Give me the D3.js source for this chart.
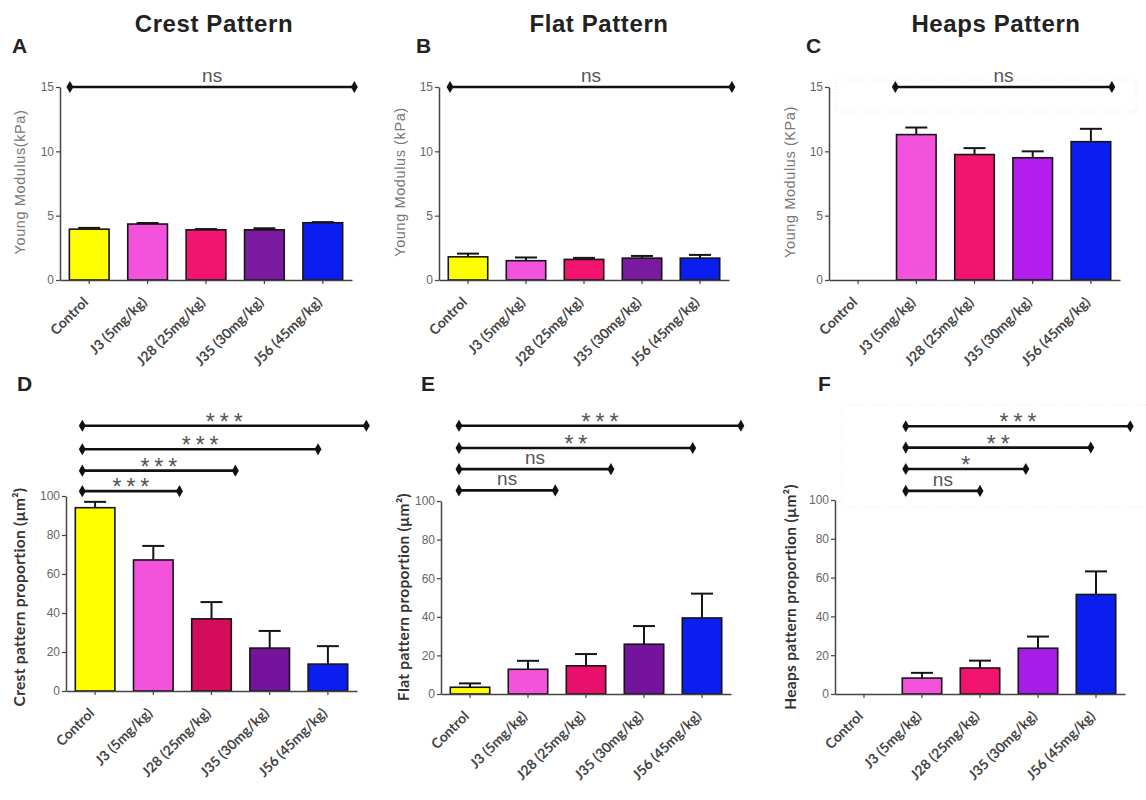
<!DOCTYPE html>
<html><head><meta charset="utf-8">
<script src="https://cdn.jsdelivr.net/npm/d3@7/dist/d3.min.js"></script>
<style>body{margin:0;background:#fff}svg{display:block}</style>
</head><body>
<svg id="c" width="1146" height="800"></svg>
<script>
// ---------- DATA ----------
const categories = ["Control", "J3 (5mg/kg)", "J28 (25mg/kg)", "J35 (30mg/kg)", "J56 (45mg/kg)"];
const columnTitles = ["Crest Pattern", "Flat Pattern", "Heaps Pattern"];
const panelLetters = ["A", "B", "C", "D", "E", "F"];
const yLabels = ["Young Modulus(kPa)", "Young Modulus (kPa)", "Young Modulus (KPa)",
                 "Crest pattern proportion (µm²)", "Flat pattern proportion (µm²)", "Heaps pattern proportion (µm²)"];
const modulusTicks = [0, 5, 10, 15];
const proportionTicks = [0, 20, 40, 60, 80, 100];

const crestModulus = [3.95, 4.35, 3.9, 3.9, 4.45];
const crestModulusErr = [0.1, 0.08, 0.06, 0.12, 0.05];
const flatModulus = [1.8, 1.5, 1.6, 1.7, 1.7];
const flatModulusErr = [0.25, 0.25, 0.12, 0.17, 0.25];
const heapsModulus = [null, 11.3, 9.75, 9.5, 10.75];
const heapsModulusErr = [null, 0.55, 0.5, 0.5, 1.0];

const crestProportion = [94, 67.2, 37, 22, 13.8];
const crestProportionErr = [3, 7.2, 8.6, 8.8, 9.2];
const flatProportion = [3.5, 12.8, 14.6, 25.8, 39.4];
const flatProportionErr = [2, 4.4, 6.1, 9.4, 12.6];
const heapsProportion = [null, 8.2, 13.4, 23.6, 51.3];
const heapsProportionErr = [null, 2.7, 3.8, 6, 11.9];

// significance brackets: from/to in category-index units, level in data units
const sigA = [{from: -0.33, to: 4.54, level: 15, label: "ns"}];
const sigB = [{from: -0.31, to: 4.55, level: 15, label: "ns"}];
const sigC = [{from: 0.64, to: 4.36, level: 15, label: "ns"}];
const sigD = [{from: -0.22, to: 4.66, level: 136, label: "***"},
              {from: -0.22, to: 3.83, level: 124, label: "***"},
              {from: -0.22, to: 2.41, level: 113, label: "***"},
              {from: -0.22, to: 1.45, level: 102.5, label: "***"}];
const sigE = [{from: -0.19, to: 4.67, level: 139, label: "***"},
              {from: -0.19, to: 3.84, level: 127.5, label: "**"},
              {from: -0.19, to: 2.43, level: 116.5, label: "ns"},
              {from: -0.19, to: 1.47, level: 105.5, label: "ns"}];
const sigF = [{from: 0.72, to: 4.59, level: 138, label: "***"},
              {from: 0.72, to: 3.91, level: 127, label: "**"},
              {from: 0.72, to: 2.79, level: 116, label: "*"},
              {from: 0.72, to: 2.0, level: 104.7, label: "ns"}];

// ---------- STYLE / LAYOUT ----------
const colorsTop = ["#ffff00", "#f352dc", "#f2146e", "#7a1a9e", "#0a1ef0"];
const colorsC = ["#ffff00", "#f352dc", "#f2146e", "#b41ff0", "#0a1ef0"];
const colorsD = ["#ffff00", "#f352dc", "#d30c5c", "#74139c", "#0a1ef0"];
const colorsE = ["#ffff00", "#f352dc", "#e8106a", "#74139c", "#0a1ef0"];
const colorsF = ["#ffff00", "#f352dc", "#f2146e", "#a51de6", "#0a1ef0"];

const panels = [
  {vals: crestModulus, errs: crestModulusErr, sig: sigA, colors: colorsTop, ticks: modulusTicks, yMax: 15,
   x0: 60, x1: 352, y0: 280, yTop: 87, letter: [12, 53], ylab: [21, 182], top: true},
  {vals: flatModulus, errs: flatModulusErr, sig: sigB, colors: colorsTop, ticks: modulusTicks, yMax: 15,
   x0: 439, x1: 729, y0: 280, yTop: 87, letter: [416, 53], ylab: [401, 182], top: true},
  {vals: heapsModulus, errs: heapsModulusErr, sig: sigC, colors: colorsC, ticks: modulusTicks, yMax: 15,
   x0: 829, x1: 1120, y0: 280, yTop: 87, letter: [806, 53], ylab: [791, 182], top: true},
  {vals: crestProportion, errs: crestProportionErr, sig: sigD, colors: colorsD, ticks: proportionTicks, yMax: 100,
   x0: 66, x1: 357, y0: 691, yTop: 496, letter: [17, 391], ylab: [21, 597], top: false},
  {vals: flatProportion, errs: flatProportionErr, sig: sigE, colors: colorsE, ticks: proportionTicks, yMax: 100,
   x0: 441, x1: 731, y0: 694, yTop: 501, letter: [421, 391], ylab: [405, 597], top: false},
  {vals: heapsProportion, errs: heapsProportionErr, sig: sigF, colors: colorsF, ticks: proportionTicks, yMax: 100,
   x0: 835, x1: 1125, y0: 694, yTop: 500, letter: [818, 391], ylab: [792, 597], top: false}
];
const titlePos = [[214, 32], [599, 32], [996, 32]];

const svg = d3.select("#c");
const ARIAL = "'Liberation Sans', Arial, sans-serif";
const CAL = "Lato, 'Open Sans', sans-serif";

// faint dotted boxes (scan artefacts)
svg.append("rect").attr("x", 836).attr("y", 80).attr("width", 300).attr("height", 32)
  .attr("fill", "none").attr("stroke", "#e4e4e4").attr("stroke-dasharray", "1,2");
svg.append("rect").attr("x", 842).attr("y", 405).attr("width", 310).attr("height", 102)
  .attr("fill", "none").attr("stroke", "#ececec").attr("stroke-dasharray", "1,2");

columnTitles.forEach((t, i) => {
  svg.append("text").attr("x", titlePos[i][0]).attr("y", titlePos[i][1])
    .attr("text-anchor", "middle").attr("font-family", ARIAL).attr("font-weight", "bold")
    .attr("font-size", 24).attr("letter-spacing", 0.6).attr("fill", "#222").text(t);
});

panels.forEach((p, pi) => {
  const g = svg.append("g");
  const x = d3.scaleBand().domain(categories).range([p.x0, p.x1]).paddingInner(0.32).paddingOuter(0.16);
  const y = d3.scaleLinear().domain([0, p.yMax]).range([p.y0, p.yTop]);
  const idx = d3.scaleLinear().domain([0, 1])
    .range([x(categories[0]) + x.bandwidth() / 2, x(categories[1]) + x.bandwidth() / 2]);

  // letter
  svg.append("text").attr("x", p.letter[0]).attr("y", p.letter[1])
    .attr("font-family", ARIAL).attr("font-weight", "bold").attr("font-size", 21)
    .attr("fill", "#222").text(panelLetters[pi]);

  // y label
  svg.append("text").attr("transform", `translate(${p.ylab[0]},${p.ylab[1]}) rotate(-90)`)
    .attr("text-anchor", "middle").attr("dominant-baseline", "middle")
    .attr("font-family", p.top ? ARIAL : CAL).attr("font-weight", p.top ? "normal" : "bold")
    .attr("font-size", p.top ? 14.5 : 15.5).attr("letter-spacing", p.top ? 0.6 : 0.3)
    .attr("fill", p.top ? "#777" : "#333")
    .text(yLabels[pi]);

  // bars
  const rows = categories.map((c, i) => ({c, v: p.vals[i], e: p.errs[i], col: p.colors[i]}))
    .filter(d => d.v != null);
  g.selectAll("rect.bar").data(rows).enter().append("rect")
    .attr("x", d => x(d.c)).attr("width", x.bandwidth())
    .attr("y", d => y(d.v)).attr("height", d => p.y0 - y(d.v))
    .attr("fill", d => d.col).attr("stroke", "#151515").attr("stroke-width", 1.6);

  // error bars
  const eg = g.selectAll("g.err").data(rows).enter().append("g");
  eg.append("line").attr("x1", d => x(d.c) + x.bandwidth() / 2).attr("x2", d => x(d.c) + x.bandwidth() / 2)
    .attr("y1", d => y(d.v)).attr("y2", d => y(d.v + d.e)).attr("stroke", "#151515").attr("stroke-width", 2);
  eg.append("line").attr("x1", d => x(d.c) + x.bandwidth() / 2 - 11).attr("x2", d => x(d.c) + x.bandwidth() / 2 + 11)
    .attr("y1", d => y(d.v + d.e)).attr("y2", d => y(d.v + d.e)).attr("stroke", "#151515").attr("stroke-width", 2);

  // y axis
  const ya = g.append("g").attr("transform", `translate(${p.x0},0)`)
    .call(d3.axisLeft(y).tickValues(p.ticks).tickSize(4).tickSizeOuter(0).tickPadding(2));
  ya.select(".domain").attr("stroke", "#444").attr("stroke-width", 1.5);
  ya.selectAll(".tick line").attr("stroke", "#444").attr("stroke-width", 1.2);
  ya.selectAll(".tick text").attr("font-family", ARIAL).attr("font-size", 12).attr("fill", "#666");

  // x axis
  const xa = g.append("g").attr("transform", `translate(0,${p.y0})`)
    .call(d3.axisBottom(x).tickSize(4).tickSizeOuter(0));
  xa.select(".domain").attr("stroke", "#444").attr("stroke-width", 1.5);
  xa.selectAll(".tick line").attr("stroke", "#444").attr("stroke-width", 1.2);
  xa.selectAll(".tick text").attr("font-family", CAL).attr("font-weight", "bold")
    .attr("font-size", 14).attr("fill", "#444")
    .attr("text-anchor", "end").attr("dy", 0).attr("y", 0)
    .attr("transform", "translate(0,23) rotate(-45)");

  // significance brackets
  const diamond = d3.symbol().type(d3.symbolDiamond).size(42);
  p.sig.forEach(s => {
    const yy = y(s.level), xa1 = idx(s.from), xb = idx(s.to);
    g.append("line").attr("x1", xa1).attr("x2", xb).attr("y1", yy).attr("y2", yy)
      .attr("stroke", "#111").attr("stroke-width", 2.6);
    [xa1, xb].forEach(xx => g.append("path").attr("d", diamond)
      .attr("transform", `translate(${xx},${yy})`).attr("fill", "#111"));
    const isStar = s.label.indexOf("*") >= 0;
    g.append("text").attr("x", (xa1 + xb) / 2 + (isStar ? 2.5 : 0)).attr("y", isStar ? yy + 4 : yy - 5)
      .attr("text-anchor", "middle").attr("font-family", ARIAL)
      .attr("font-size", isStar ? 23 : 19).attr("letter-spacing", isStar ? 5 : 0)
      .attr("fill", isStar ? "#555" : "#555").text(s.label);
  });
});
</script>
</body></html>
